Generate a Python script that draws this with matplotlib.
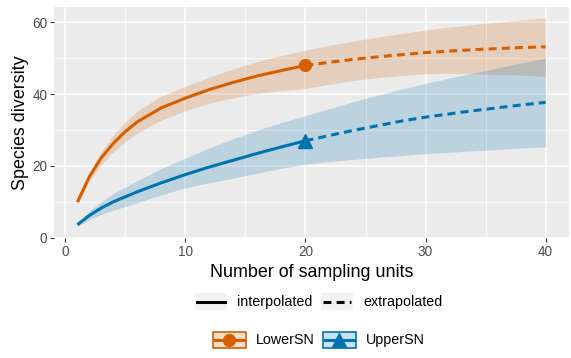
import matplotlib
matplotlib.use("Agg")
import matplotlib.pyplot as plt
from matplotlib.patches import Rectangle
from matplotlib.lines import Line2D

plt.rcParams['font.family'] = ['Liberation Sans', 'DejaVu Sans']

# sampling units, interpolated part (up to observed) and extrapolated part
x_interp = [1, 2, 3, 4, 5, 6, 8, 10, 12, 14, 16, 18, 20]
x_extrap = [20, 22, 24, 26, 28, 30, 32, 34, 36, 38, 40]

# LowerSN
lower_est = [9.9, 17.0, 22.3, 26.3, 29.6, 32.3, 36.2, 38.9, 41.3, 43.3, 45.1, 46.6, 48.0]
lower_lo = [9.3, 15.8, 20.5, 23.9, 26.8, 29.2, 32.8, 35.4, 37.5, 39.0, 40.2, 41.0, 41.6]
lower_hi = [10.5, 18.2, 24.1, 28.6, 32.3, 35.3, 39.5, 42.2, 44.8, 47.1, 49.1, 50.8, 52.3]
lower_est_ext = [48.0, 48.9, 49.7, 50.4, 51.0, 51.6, 52.0, 52.4, 52.7, 53.0, 53.2]
lower_lo_ext = [41.6, 42.8, 43.8, 44.6, 45.2, 45.7, 45.8, 45.7, 45.5, 45.3, 45.0]
lower_hi_ext = [52.3, 53.6, 54.8, 55.9, 56.9, 57.9, 58.7, 59.4, 60.1, 60.7, 61.2]

# UpperSN
upper_est = [3.6, 6.2, 8.3, 10.0, 11.4, 12.8, 15.3, 17.6, 19.7, 21.6, 23.5, 25.3, 27.0]
upper_lo = [3.1, 5.0, 6.5, 7.7, 8.7, 9.8, 11.9, 13.9, 15.3, 16.6, 18.0, 19.3, 20.5]
upper_hi = [4.1, 7.4, 10.1, 12.3, 14.2, 15.9, 19.3, 22.2, 25.0, 27.6, 30.0, 32.1, 34.0]
upper_est_ext = [27.0, 28.5, 29.9, 31.2, 32.5, 33.6, 34.5, 35.4, 36.2, 37.0, 37.7]
upper_lo_ext = [20.5, 21.2, 21.8, 22.4, 22.9, 23.4, 23.8, 24.2, 24.6, 25.0, 25.3]
upper_hi_ext = [34.0, 36.0, 37.9, 39.7, 41.4, 43.0, 44.5, 45.9, 47.3, 48.7, 50.1]

sites = ['LowerSN', 'UpperSN']
colors = ['#D55E00', '#0072B2']
markers = ['o', '^']
x_ticks = [0, 10, 20, 30, 40]
y_ticks = [0, 20, 40, 60]

W, H = 571, 358
fig = plt.figure(figsize=(W / 100, H / 100), dpi=100)
ax = fig.add_axes([54 / W, 1 - 238 / H, (569 - 54) / W, (238 - 7) / H])
ax.set_facecolor('#EBEBEB')
for s in ax.spines.values():
    s.set_visible(False)

series = [
    (lower_est, lower_lo, lower_hi, lower_est_ext, lower_lo_ext, lower_hi_ext),
    (upper_est, upper_lo, upper_hi, upper_est_ext, upper_lo_ext, upper_hi_ext),
]
lw = 2.2
dash = (2.6, 1.7)
for (est, lo, hi, est_e, lo_e, hi_e), col, mk in zip(series, colors, markers):
    xs = x_interp + x_extrap[1:]
    ax.fill_between(xs, lo + lo_e[1:], hi + hi_e[1:], color=col, alpha=0.2, linewidth=0, zorder=2)
    ax.plot(x_interp, est, color=col, lw=lw, solid_capstyle='butt', solid_joinstyle='round', zorder=3)
    ax.plot(x_extrap, est_e, color=col, lw=lw, dashes=dash, zorder=3)
    ax.plot([x_interp[-1]], [est[-1]], marker=mk, color=col, ms=8.5 if mk == 'o' else 9.5,
            ls='none', zorder=4)

ax.set_xlim(-0.95, 41.95)
ax.set_ylim(-0.1, 64.3)
ax.set_xticks(x_ticks)
ax.set_yticks(y_ticks)
ax.set_xticks([5, 15, 25, 35], minor=True)
ax.set_yticks([10, 30, 50], minor=True)
ax.grid(True, which='major', color='white', lw=1.1, zorder=0)
ax.grid(True, which='minor', color='white', lw=0.55, zorder=0)
ax.set_axisbelow(True)
ax.tick_params(which='major', length=2.8, width=0.8, color='#333333', labelcolor='#4D4D4D',
               labelsize=9.8, pad=2)
ax.tick_params(which='minor', length=0)
ax.set_xlabel('Number of sampling units', fontsize=12.9, labelpad=3.5)
ax.set_ylabel('Species diversity', fontsize=12.9, labelpad=2)

# legends drawn in pixel coordinates
lg = fig.add_axes([0, 0, 1, 1])
lg.set_xlim(0, W)
lg.set_ylim(H, 0)
lg.axis('off')

fs_leg = 10.3
row1 = 301.7
lg.add_patch(Rectangle((195, row1 - 8.5), 32, 17, color='#F2F2F2', lw=0))
lg.add_line(Line2D([197, 225], [row1, row1], color='black', lw=2.2))
lg.text(237, row1, 'interpolated', fontsize=fs_leg, va='center', ha='left')
lg.add_patch(Rectangle((321, row1 - 8.5), 32, 17, color='#F2F2F2', lw=0))
lg.add_line(Line2D([323, 351], [row1, row1], color='black', lw=2.2, dashes=dash))
lg.text(363, row1, 'extrapolated', fontsize=fs_leg, va='center', ha='left')

row2 = 340.2
key_x = [212.5, 322.5]
for name, col, mk, kx in zip(sites, colors, markers, key_x):
    lg.add_patch(Rectangle((kx, row2 - 8), 33, 16, facecolor=col, alpha=0.2, lw=0))
    lg.add_patch(Rectangle((kx, row2 - 8), 33, 16, facecolor='none', edgecolor=col, lw=1.2))
    lg.add_line(Line2D([kx + 2, kx + 31], [row2, row2], color=col, lw=2.2))
    lg.add_line(Line2D([kx + 16.5], [row2], marker=mk, color=col, ms=8.5 if mk == 'o' else 9.5))
    lg.text(kx + 43.5, row2, name, fontsize=fs_leg, va='center', ha='left')

fig.savefig('out.png', dpi=100)
